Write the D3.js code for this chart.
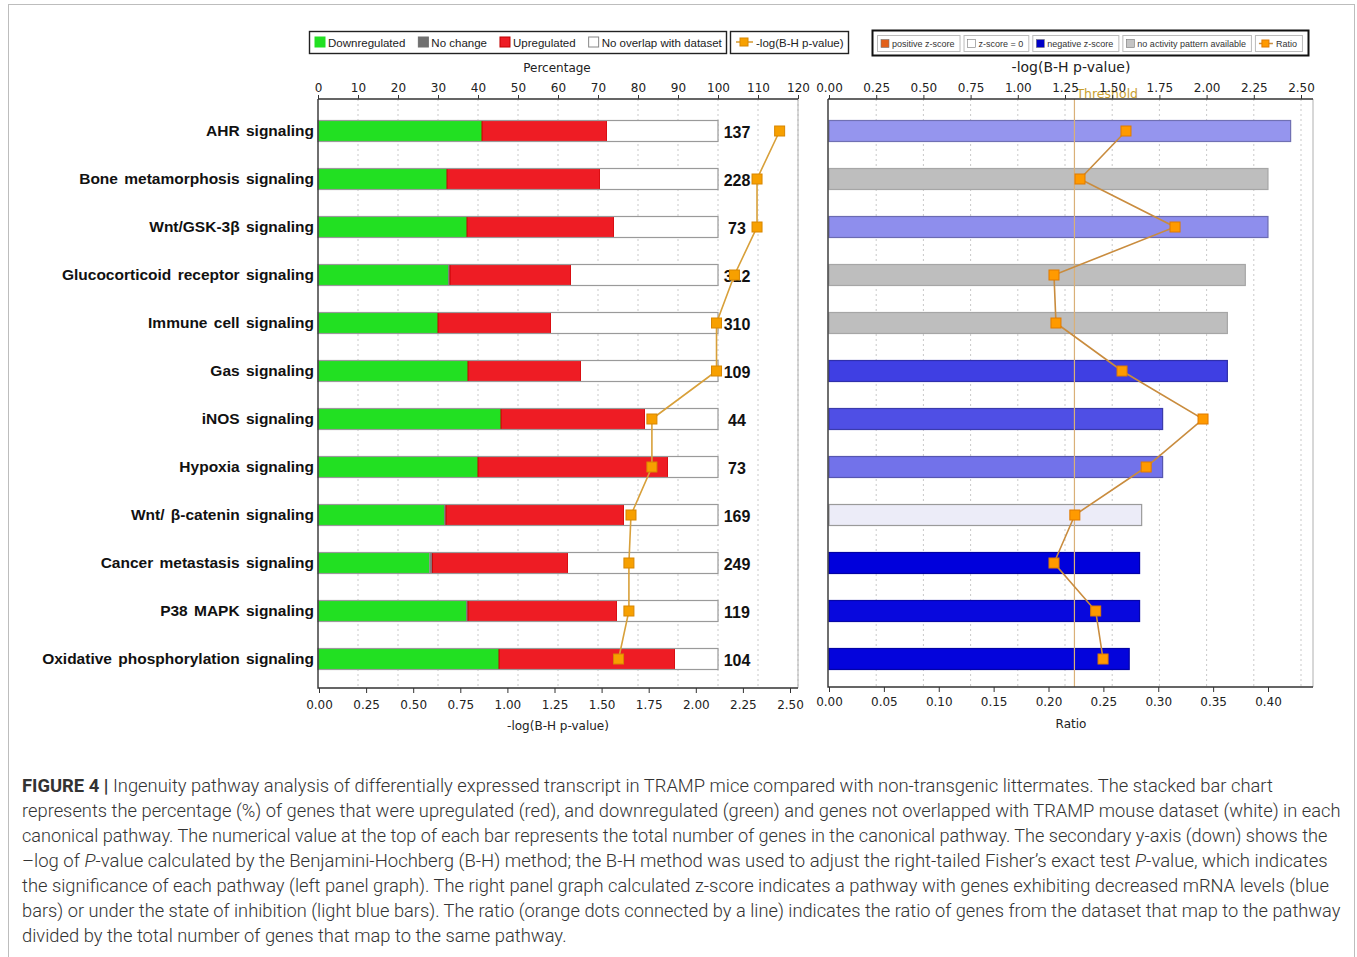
<!DOCTYPE html>
<html>
<head>
<meta charset="utf-8">
<script src="https://cdn.jsdelivr.net/npm/d3@7"></script>
<style>
  body { margin: 0; background: #fff; }
  svg { display: block; }
</style>
</head>
<body>
<svg id="fig" width="1357" height="957"></svg>
<script>
// ---- data ----
const pathways = [
  "AHR signaling", "Bone metamorphosis signaling", "Wnt/GSK-3\u03b2 signaling",
  "Glucocorticoid receptor signaling", "Immune cell signaling", "Gas signaling",
  "iNOS signaling", "Hypoxia signaling", "Wnt/ \u03b2-catenin signaling",
  "Cancer metastasis signaling", "P38 MAPK signaling", "Oxidative phosphorylation signaling"
];
const downPct     = [41, 32.25, 37.25, 32.5, 30, 37.5, 45.75, 40, 31.5, 27.8, 37, 45.25];
const noChangePct = [0, 0, 0, 0.5, 0, 0, 0, 0, 0.5, 0.8, 0.5, 0];
const upPct       = [31.25, 38.25, 36.75, 30.25, 28.25, 28.25, 36, 47.5, 44.5, 33.9, 37.25, 44];
const geneTotals  = [137, 228, 73, 312, 310, 109, 44, 73, 169, 249, 119, 104];
const negLogP     = [2.445, 2.325, 2.325, 2.205, 2.11, 2.11, 1.767, 1.767, 1.656, 1.645, 1.645, 1.59];
const zScores     = [-1.1, null, -1.2, null, null, -2.2, -2.0, -1.55, 0, -3, -2.9, -2.95];
const ratios      = [0.2706, 0.2287, 0.3153, 0.205, 0.2068, 0.267, 0.3408, 0.289, 0.224, 0.205, 0.243, 0.2497];
const threshold   = 1.3;

const pctTicks   = d3.range(0, 121, 10);
const logPTicks  = d3.range(0, 2.51, 0.25);
const ratioTicks = d3.range(0, 0.401, 0.05);

const leftLegend = [
  { label: "Downregulated", fill: "#22e022", stroke: "#22e022" },
  { label: "No change", fill: "#707070", stroke: "#707070" },
  { label: "Upregulated", fill: "#ee1c24", stroke: "#c00000" },
  { label: "No overlap with dataset", fill: "#ffffff", stroke: "#888" }
];
const rightLegend = [
  { label: "positive z-score", fill: "#e2601a" },
  { label: "z-score = 0", fill: "#ffffff" },
  { label: "negative z-score", fill: "#0000c8" },
  { label: "no activity pattern available", fill: "#c4c4c4" }
];

const caption = [
  "<b>FIGURE 4 |</b> Ingenuity pathway analysis of differentially expressed transcript in TRAMP mice compared with non-transgenic littermates. The stacked bar chart",
  "represents the percentage (%) of genes that were upregulated (red), and downregulated (green) and genes not overlapped with TRAMP mouse dataset (white) in each",
  "canonical pathway. The numerical value at the top of each bar represents the total number of genes in the canonical pathway. The secondary y-axis (down) shows the",
  "\u2013log of <i>P</i>-value calculated by the Benjamini-Hochberg (B-H) method; the B-H method was used to adjust the right-tailed Fisher\u2019s exact test <i>P</i>-value, which indicates",
  "the significance of each pathway (left panel graph). The right panel graph calculated z-score indicates a pathway with genes exhibiting decreased mRNA levels (blue",
  "bars) or under the state of inhibition (light blue bars). The ratio (orange dots connected by a line) indicates the ratio of genes from the dataset that map to the pathway",
  "divided by the total number of genes that map to the same pathway."
];
const captionWidths = [1252, 1319, 1306, 1306, 1308, 1319, 545];

// ---- layout ----
const svg = d3.select("#fig");
const AX = "DejaVu Sans, Verdana, sans-serif";
const SANS = "Liberation Sans, Arial, sans-serif";
const L = { x0: 318, x1: 798, top: 99, bottom: 688 };
const R = { x0: 828, x1: 1313, top: 99, bottom: 687 };
const barH = 21;

svg.append("rect").attr("x", 8.5).attr("y", 4.5).attr("width", 1346).attr("height", 970)
  .attr("fill", "#fff").attr("stroke", "#bdbdbd");

const y = d3.scalePoint().domain(pathways).range([131, 659]);
const xPct = d3.scaleLinear().domain([0, 120]).range([L.x0, L.x1]);
const xLogL = d3.scaleLinear().domain([0, 2.5]).range([319, 790]);
const xLogR = d3.scaleLinear().domain([0, 2.5]).range([829, 1301]);
const xRatio = d3.scaleLinear().domain([0, 0.4]).range([829, 1268]);
const zColor = d3.scaleLinear().domain([0, -3]).range(["#ececf8", "#0000dc"]).clamp(true);

function styleAxis(ax, dy) {
  ax.select(".domain").remove();
  ax.selectAll(".tick line").attr("stroke", "#333");
  ax.selectAll(".tick text").style("font-family", AX).style("font-size", "12px").style("fill", "#222");
  if (dy != null) ax.selectAll(".tick text").attr("y", dy);
}

// ---- left panel ----
const gridL = svg.append("g");
gridL.selectAll("line").data(pctTicks.slice(1)).join("line")
  .attr("x1", d => xPct(d)).attr("x2", d => xPct(d))
  .attr("y1", L.top).attr("y2", L.bottom)
  .attr("stroke", "#c9c9c9").attr("stroke-dasharray", "2,3");

const rows = pathways.map((p, i) => ({
  name: p, down: downPct[i], nochange: noChangePct[i], up: upPct[i],
  nooverlap: 100 - downPct[i] - noChangePct[i] - upPct[i]
}));
const keys = ["down", "nochange", "up", "nooverlap"];
const series = d3.stack().keys(keys)(rows);
const segFill = { down: "#22e022", nochange: "#808080", up: "#ee1c24", nooverlap: "#ffffff" };
const segStroke = { down: "none", nochange: "none", up: "#c40000", nooverlap: "none" };

svg.append("g").selectAll("g").data(series).join("g")
  .attr("fill", d => segFill[d.key]).attr("stroke", d => segStroke[d.key])
  .selectAll("rect").data(d => d).join("rect")
  .attr("x", d => xPct(d[0])).attr("width", d => Math.max(0, xPct(d[1]) - xPct(d[0])))
  .attr("y", d => y(d.data.name) - barH / 2).attr("height", barH);

svg.append("g").selectAll("rect").data(rows).join("rect")
  .attr("x", xPct(0)).attr("width", xPct(100) - xPct(0))
  .attr("y", d => y(d.name) - barH / 2).attr("height", barH)
  .attr("fill", "none").attr("stroke", "#9a9a9a").attr("stroke-width", 1.2);

// category labels
svg.append("g").selectAll("text").data(pathways).join("text")
  .attr("x", 314).attr("y", d => y(d) - 1)
  .attr("text-anchor", "end").attr("dominant-baseline", "central")
  .style("font-family", SANS).style("font-size", "15.5px").style("font-weight", "700").style("fill", "#111")
  .style("word-spacing", "2px")
  .text(d => d);

// totals
svg.append("g").selectAll("text").data(geneTotals).join("text")
  .attr("x", 737).attr("y", (d, i) => y(pathways[i]) + 1)
  .attr("text-anchor", "middle").attr("dominant-baseline", "central")
  .style("font-family", SANS).style("font-size", "16px").style("font-weight", "700").style("fill", "#111")
  .text(d => d);

// -log p line on left
const lineL = d3.line().x(d => xLogL(d.v)).y(d => y(d.name));
const pData = pathways.map((p, i) => ({ name: p, v: negLogP[i] }));
svg.append("path").datum(pData).attr("d", lineL)
  .attr("fill", "none").attr("stroke", "#d8a03a").attr("stroke-width", 1.6);
svg.append("g").selectAll("rect").data(pData).join("rect")
  .attr("x", d => xLogL(d.v) - 5).attr("y", d => y(d.name) - 5)
  .attr("width", 10).attr("height", 10)
  .attr("fill", "#f7a000").attr("stroke", "#d88600");

// frame left
const frameL = svg.append("g").attr("fill", "none");
frameL.append("line").attr("x1", L.x1).attr("x2", L.x1).attr("y1", L.top).attr("y2", L.bottom).attr("stroke", "#b0b0b0");
frameL.append("path").attr("d", `M${L.x0},${L.top}H${L.x1}M${L.x0},${L.top}V${L.bottom}H${L.x1}`)
  .attr("stroke", "#333").attr("stroke-width", 1.4);

svg.append("g").attr("transform", `translate(0,${L.top})`)
  .call(d3.axisTop(xPct).tickValues(pctTicks).tickSize(4).tickSizeOuter(0))
  .call(ax => styleAxis(ax));
svg.append("g").attr("transform", `translate(0,${L.bottom})`)
  .call(d3.axisBottom(xLogL).tickValues(logPTicks).tickFormat(d3.format(".2f")).tickSize(5).tickSizeOuter(0))
  .call(ax => styleAxis(ax, 12));

svg.append("text").attr("x", 557).attr("y", 72).attr("text-anchor", "middle")
  .style("font-family", AX).style("font-size", "12px").style("fill", "#222").text("Percentage");
svg.append("text").attr("x", 558).attr("y", 730).attr("text-anchor", "middle")
  .style("font-family", AX).style("font-size", "12px").style("fill", "#222").text("-log(B-H p-value)");

// ---- right panel ----
const gridR = svg.append("g");
gridR.selectAll("line").data(logPTicks.slice(1)).join("line")
  .attr("x1", d => xLogR(d)).attr("x2", d => xLogR(d))
  .attr("y1", R.top).attr("y2", R.bottom)
  .attr("stroke", "#c9c9c9").attr("stroke-dasharray", "2,3");

const rData = pathways.map((p, i) => ({ name: p, v: negLogP[i], z: zScores[i], r: ratios[i] }));
svg.append("g").selectAll("rect").data(rData).join("rect")
  .attr("x", xLogR(0)).attr("width", d => xLogR(d.v) - xLogR(0))
  .attr("y", d => y(d.name) - barH / 2).attr("height", barH)
  .attr("fill", d => d.z == null ? "#bebebe" : zColor(d.z))
  .attr("stroke", d => d.z == null ? "#a6a6a6" : (d.z === 0 ? "#9a9a9a" : d3.color(zColor(d.z)).darker(0.8)))
  .attr("stroke-width", 1.2);

svg.append("line").attr("x1", xLogR(threshold)).attr("x2", xLogR(threshold))
  .attr("y1", R.top).attr("y2", R.bottom)
  .attr("stroke", "#d9b078").attr("stroke-width", 1.2);
svg.append("text").attr("x", xLogR(threshold) + 2).attr("y", 98)
  .style("font-family", AX).style("font-size", "12.5px").style("fill", "#c9a030").text("Threshold");

const lineR = d3.line().x(d => xRatio(d.r)).y(d => y(d.name));
svg.append("path").datum(rData).attr("d", lineR)
  .attr("fill", "none").attr("stroke", "#c98c3e").attr("stroke-width", 1.6);
svg.append("g").selectAll("rect").data(rData).join("rect")
  .attr("x", d => xRatio(d.r) - 5).attr("y", d => y(d.name) - 5)
  .attr("width", 10).attr("height", 10)
  .attr("fill", "#ff9a00").attr("stroke", "#e07a00");

const frameR = svg.append("g").attr("fill", "none");
frameR.append("line").attr("x1", R.x1).attr("x2", R.x1).attr("y1", R.top).attr("y2", R.bottom).attr("stroke", "#b0b0b0");
frameR.append("path").attr("d", `M${R.x0},${R.top}H${R.x1}M${R.x0},${R.top}V${R.bottom}H${R.x1}`)
  .attr("stroke", "#333").attr("stroke-width", 1.4);

svg.append("g").attr("transform", `translate(0,${R.top})`)
  .call(d3.axisTop(xLogR).tickValues(logPTicks).tickFormat(d3.format(".2f")).tickSize(4).tickSizeOuter(0))
  .call(ax => styleAxis(ax));
svg.append("g").attr("transform", `translate(0,${R.bottom})`)
  .call(d3.axisBottom(xRatio).tickValues(ratioTicks).tickFormat(d3.format(".2f")).tickSize(5).tickSizeOuter(0))
  .call(ax => styleAxis(ax, 10));

svg.append("text").attr("x", 1071).attr("y", 72).attr("text-anchor", "middle")
  .style("font-family", AX).style("font-size", "14px").style("fill", "#222").text("-log(B-H p-value)");
svg.append("text").attr("x", 1071).attr("y", 728).attr("text-anchor", "middle")
  .style("font-family", AX).style("font-size", "12px").style("fill", "#222").text("Ratio");

// ---- left legend ----
const lg = svg.append("g");
lg.append("rect").attr("x", 309.5).attr("y", 31.5).attr("width", 417).attr("height", 22)
  .attr("fill", "#fff").attr("stroke", "#222").attr("stroke-width", 1.4);
let cx = 315;
leftLegend.forEach(it => {
  lg.append("rect").attr("x", cx).attr("y", 37).attr("width", 10).attr("height", 10)
    .attr("fill", it.fill).attr("stroke", it.stroke);
  const t = lg.append("text").attr("x", cx + 13).attr("y", 46.5)
    .style("font-family", SANS).style("font-size", "11.5px").style("fill", "#222").text(it.label);
  cx += 13 + t.node().getComputedTextLength() + 13;
});
lg.append("rect").attr("x", 730.5).attr("y", 31.5).attr("width", 118).attr("height", 22)
  .attr("fill", "#fff").attr("stroke", "#222").attr("stroke-width", 1.4);
lg.append("line").attr("x1", 736).attr("x2", 753).attr("y1", 42).attr("y2", 42).attr("stroke", "#d8a03a").attr("stroke-width", 1.6);
lg.append("rect").attr("x", 740).attr("y", 38).attr("width", 8).attr("height", 8).attr("fill", "#f7a000").attr("stroke", "#d88600");
lg.append("text").attr("x", 756).attr("y", 46.5)
  .style("font-family", SANS).style("font-size", "11.5px").style("fill", "#222").text("-log(B-H p-value)");

// ---- right legend ----
const rg = svg.append("g");
rg.append("rect").attr("x", 872.5).attr("y", 30.5).attr("width", 436).attr("height", 25)
  .attr("fill", "#fff").attr("stroke", "#111").attr("stroke-width", 2);
let rx = 877;
rightLegend.forEach(it => {
  const box = rg.append("rect").attr("x", rx + 0.5).attr("y", 35.5).attr("height", 16)
    .attr("fill", "#fff").attr("stroke", "#bbb");
  rg.append("rect").attr("x", rx + 4).attr("y", 39.5).attr("width", 8).attr("height", 8)
    .attr("fill", it.fill).attr("stroke", "#777").attr("stroke-width", 0.6);
  const t = rg.append("text").attr("x", rx + 15).attr("y", 47)
    .style("font-family", SANS).style("font-size", "9px").style("fill", "#333").text(it.label);
  const w = 15 + t.node().getComputedTextLength() + 5;
  box.attr("width", w);
  rx += w + 4;
});
{
  const box = rg.append("rect").attr("x", rx + 0.5).attr("y", 35.5).attr("height", 16)
    .attr("fill", "#fff").attr("stroke", "#bbb");
  rg.append("line").attr("x1", rx + 4).attr("x2", rx + 18).attr("y1", 43.5).attr("y2", 43.5).attr("stroke", "#c98c3e").attr("stroke-width", 1.5);
  rg.append("rect").attr("x", rx + 7).attr("y", 40).attr("width", 7).attr("height", 7).attr("fill", "#ff9a00").attr("stroke", "#e07a00");
  const t = rg.append("text").attr("x", rx + 21).attr("y", 47)
    .style("font-family", SANS).style("font-size", "9px").style("fill", "#333").text("Ratio");
  box.attr("width", 21 + t.node().getComputedTextLength() + 5);
}

// ---- caption ----
const cap = svg.append("g");
caption.forEach((line, i) => {
  const t = cap.append("text").attr("x", 0).attr("y", 0)
    .style("font-family", "Roboto, Liberation Sans, sans-serif").style("font-weight", "300")
    .style("font-size", "18.5px").style("fill", "#333");
  line.split(/(<b>.*?<\/b>|<i>.*?<\/i>)/).filter(s => s.length).forEach(seg => {
    const sp = t.append("tspan");
    if (seg.startsWith("<b>")) sp.style("font-weight", "700").text(seg.slice(3, -4));
    else if (seg.startsWith("<i>")) sp.style("font-style", "italic").text(seg.slice(3, -4));
    else sp.text(seg);
  });
  const k = captionWidths[i] / t.node().getComputedTextLength();
  t.attr("transform", `translate(22,${792 + i * 25}) scale(${k},1)`);
});
</script>
</body>
</html>
